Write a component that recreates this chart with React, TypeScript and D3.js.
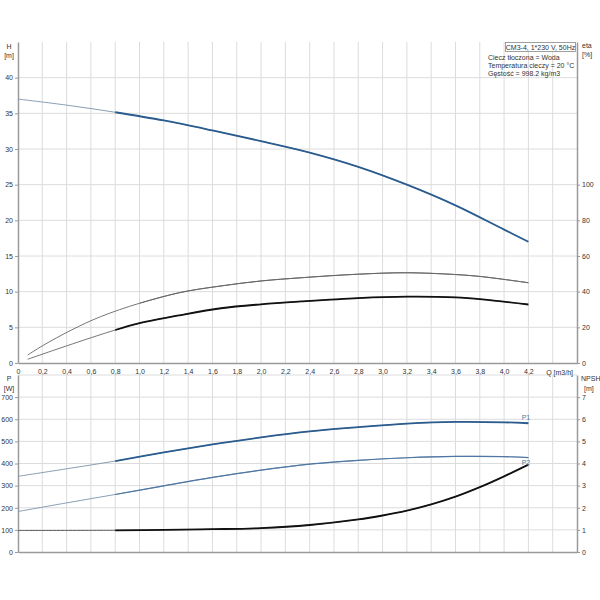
import React, { useEffect, useRef } from "react";
import * as d3 from "d3";

// Q axis ticks [m3/h]
const qTicks = [0, 0.2, 0.4, 0.6, 0.8, 1.0, 1.2, 1.4, 1.6, 1.8, 2.0, 2.2, 2.4, 2.6, 2.8, 3.0, 3.2, 3.4, 3.6, 3.8, 4.0, 4.2];
const qGrid = [0.2, 0.4, 0.6, 0.8, 1.0, 1.2, 1.4, 1.6, 1.8, 2.0, 2.2, 2.4, 2.6, 2.8, 3.0, 3.2, 3.4, 3.6, 3.8, 4.0, 4.2, 4.4];
const hTicks = [0, 5, 10, 15, 20, 25, 30, 35, 40];
const etaTicks = [0, 20, 40, 60, 80, 100];
const pTicks = [0, 100, 200, 300, 400, 500, 600, 700];
const pGrid = [100, 200, 300, 400, 500, 600, 700, 800];
const npshTicks = [0, 1, 2, 3, 4, 5, 6, 7];

// Head curve
const qHead = [0, 0.4, 0.8, 1.2, 1.6, 2.0, 2.4, 2.8, 3.2, 3.6, 4.0, 4.2];
const head = [37.0, 36.15, 35.15, 34.0, 32.6, 31.1, 29.5, 27.5, 25.0, 22.1, 18.7, 17.0];

// Efficiency curves [%]
const qEtaPump = [0.08, 0.2, 0.44, 0.68, 1.0, 1.34, 1.67, 2.0, 2.33, 2.8, 3.2, 3.6, 3.82, 4.2];
const etaPump = [4.5, 9.6, 18.5, 26.0, 33.5, 39.6, 43.2, 46.0, 47.8, 49.8, 50.6, 49.6, 48.4, 45.0];
const qEtaTotal = [0.08, 0.4, 0.8, 1.0, 1.34, 1.67, 2.0, 2.33, 2.8, 3.2, 3.6, 3.82, 4.2];
const etaTotal = [2.1, 9.6, 18.5, 22.3, 26.9, 30.7, 32.9, 34.5, 36.4, 37.2, 36.8, 35.7, 32.8];

// Power curves [W]
const qPower = [0, 0.4, 0.8, 1.2, 1.6, 2.0, 2.4, 2.8, 3.2, 3.6, 4.0, 4.2];
const p1 = [342, 376, 411, 450, 486, 518, 545, 564, 580, 588, 586, 582];
const p2 = [183, 222, 260, 299, 337, 370, 397, 414, 426, 432, 431, 427];

// NPSH [m]
const qNpsh = [0, 0.8, 1.2, 1.6, 2.0, 2.4, 2.8, 3.0, 3.2, 3.4, 3.6, 3.8, 4.0, 4.2];
const npsh = [0.97, 0.98, 1.0, 1.03, 1.08, 1.22, 1.47, 1.65, 1.87, 2.15, 2.5, 2.93, 3.42, 3.95];

const infoTitle = "CM3-4, 1*230 V, 50Hz";
const infoLines = ["Ciecz tłoczona = Woda", "Temperatura cieczy = 20 °C", "Gęstość = 998.2 kg/m3"];

const FONT = "Liberation Sans, Arial, sans-serif";
const BLUE = "#2b5c8e";
const BLUE_THIN = "#7d93ad";

export default function App() {
  const svgRef = useRef<SVGSVGElement>(null);

  useEffect(() => {
    if (!svgRef.current) return;
    const svg = d3.select(svgRef.current);
    svg.selectAll("*").remove();

    const left = 18, right = 577;
    const top1 = 42, bot1 = 363;
    const top2 = 375, bot2 = 552;

    const x = d3.scaleLinear().domain([0, 4.6]).range([left, right]);
    const yH = d3.scaleLinear().domain([0, 45]).range([bot1, top1]);
    const yEta = d3.scaleLinear().domain([0, 180]).range([bot1, top1]);
    const yP = d3.scaleLinear().domain([0, 800]).range([bot2, top2]);
    const yN = d3.scaleLinear().domain([0, 8]).range([bot2, top2]);

    const grid = svg.append("g").attr("stroke", "#dcdcdc").attr("stroke-width", 1);
    // vertical grid
    qGrid.forEach((q) => {
      grid.append("line").attr("x1", x(q)).attr("x2", x(q)).attr("y1", top1).attr("y2", bot1);
      grid.append("line").attr("x1", x(q)).attr("x2", x(q)).attr("y1", top2).attr("y2", bot2);
    });
    hTicks.slice(1).forEach((h) => {
      grid.append("line").attr("x1", left).attr("x2", right).attr("y1", yH(h)).attr("y2", yH(h));
    });
    pGrid.forEach((p) => {
      grid.append("line").attr("x1", left).attr("x2", right).attr("y1", yP(p)).attr("y2", yP(p));
    });

    const styleAxis = (g: d3.Selection<SVGGElement, unknown, null, undefined>) => {
      g.select(".domain").attr("stroke", "#9a9a9a").attr("stroke-width", 1.5);
      g.selectAll(".tick line").attr("stroke", "#9a9a9a");
      g.selectAll(".tick text").attr("fill", "#333").attr("font-family", FONT).attr("font-size", 7);
    };
    const commaFmt = (d: d3.NumberValue) => (+d === 0 ? "0" : (+d).toFixed(1).replace(".", ","));

    // top chart axes
    svg.append("g")
      .attr("transform", `translate(0,${bot1})`)
      .call(d3.axisBottom(x).tickValues(qTicks).tickFormat(commaFmt).tickSize(0).tickPadding(6))
      .call(styleAxis);
    svg.append("g")
      .attr("transform", `translate(${left},0)`)
      .call(d3.axisLeft(yH).tickValues(hTicks).tickSize(3).tickSizeOuter(0).tickPadding(2))
      .call(styleAxis);
    svg.append("g")
      .attr("transform", `translate(${right},0)`)
      .call(d3.axisRight(yEta).tickValues(etaTicks).tickSize(3).tickSizeOuter(0).tickPadding(2))
      .call(styleAxis);

    // bottom chart axes
    svg.append("g")
      .attr("transform", `translate(0,${bot2})`)
      .call(d3.axisBottom(x).tickValues([]).tickSizeOuter(0))
      .call(styleAxis);
    svg.append("g")
      .attr("transform", `translate(${left},0)`)
      .call(d3.axisLeft(yP).tickValues(pTicks).tickSize(3).tickSizeOuter(0).tickPadding(2))
      .call(styleAxis);
    svg.append("g")
      .attr("transform", `translate(${right},0)`)
      .call(d3.axisRight(yN).tickValues(npshTicks).tickSize(3).tickSizeOuter(0).tickPadding(2))
      .call(styleAxis);

    const label = (tx: number, ty: number, t: string, anchor = "start", fill = "#333") =>
      svg.append("text").attr("x", tx).attr("y", ty).attr("text-anchor", anchor)
        .attr("font-family", FONT).attr("font-size", 7).attr("fill", fill).text(t);

    label(9, 49, "H", "middle");
    label(9, 58, "[m]", "middle");
    label(582, 48, "eta");
    label(582, 57, "[%]");
    label(9, 381, "P", "middle");
    label(9, 391, "[W]", "middle");
    label(581, 381, "NPSH");
    label(584, 391, "[m]");
    label(573, 375, "Q [m3/h]", "end");

    // info box
    svg.append("rect").attr("x", 505.5).attr("y", 42.5).attr("width", 70).attr("height", 9)
      .attr("fill", "#fff").attr("stroke", "#888").attr("stroke-width", 0.8);
    label(540.5, 49.5, infoTitle, "middle");
    infoLines.forEach((t, i) => label(488, 60 + i * 8, t));

    const drawCurve = (
      qs: number[], vs: number[], y: d3.ScaleLinear<number, number>,
      thinColor: string, thickColor: string, thickWidth: number, thinWidth = 0.9, split = 0.8
    ) => {
      const pts = qs.map((q, i) => [q, vs[i]] as [number, number]);
      const line = d3.line<[number, number]>()
        .x((d) => x(d[0]))
        .y((d) => y(d[1]))
        .curve(d3.curveCatmullRom.alpha(0.5));
      svg.append("path").datum(pts).attr("fill", "none")
        .attr("stroke", thinColor).attr("stroke-width", thinWidth).attr("d", line);
      const thick = pts.filter((d) => d[0] >= split);
      svg.append("path").datum(thick).attr("fill", "none")
        .attr("stroke", thickColor).attr("stroke-width", thickWidth).attr("d", line);
    };

    drawCurve(qHead, head, yH, BLUE_THIN, BLUE, 1.8);
    drawCurve(qEtaPump, etaPump, yEta, "#666", "#666", 1);
    drawCurve(qEtaTotal, etaTotal, yEta, "#666", "#111", 1.8);
    drawCurve(qPower, p1, yP, BLUE_THIN, BLUE, 1.8);
    drawCurve(qPower, p2, yP, BLUE_THIN, "#4f77a3", 1.2);
    drawCurve(qNpsh, npsh, yN, "#555", "#111", 1.8);

    label(x(4.18), yP(p1[p1.length - 1]) - 3, "P1", "middle", "#4f77a3");
    label(x(4.18), yP(p2[p2.length - 1]) + 7, "P2", "middle", "#4f77a3");
  }, []);

  return (
    <svg
      ref={svgRef}
      width={600}
      height={600}
      style={{ position: "absolute", left: 0, top: 0, background: "#fff" }}
    />
  );
}
